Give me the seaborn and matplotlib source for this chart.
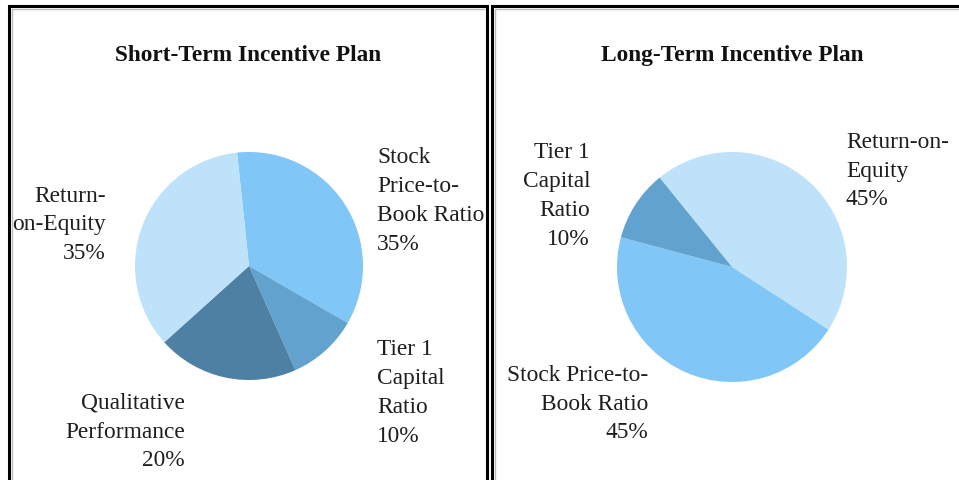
import matplotlib
matplotlib.use("Agg")
import matplotlib.pyplot as plt
from matplotlib.lines import Line2D
import seaborn as sns

# ---- data ----
short_titles = "Short-Term Incentive Plan"
long_titles = "Long-Term Incentive Plan"

short_categories = ["Stock Price-to-Book Ratio", "Tier 1 Capital Ratio",
                    "Qualitative Performance", "Return-on-Equity"]
short_values = [35, 10, 20, 35]
short_labels = ["Stock\nPrice-to-\nBook Ratio\n35%", "Tier 1\nCapital\nRatio\n10%",
                "Qualitative\nPerformance\n20%", "Return-\non-Equity\n35%"]

long_categories = ["Return-on-Equity", "Stock Price-to-Book Ratio", "Tier 1 Capital Ratio"]
long_values = [45, 45, 10]
long_labels = ["Return-on-\nEquity\n45%", "Stock Price-to-\nBook Ratio\n45%",
               "Tier 1\nCapital\nRatio\n10%"]

color_map = {
    "Return-on-Equity": "#BEE2FA",
    "Stock Price-to-Book Ratio": "#80C6F7",
    "Tier 1 Capital Ratio": "#62A2CE",
    "Qualitative Performance": "#4E80A3",
}

sns.set_theme(style="white")
plt.rcParams["font.family"] = ["Liberation Serif", "DejaVu Serif"]

W, H = 959, 481
fig = plt.figure(figsize=(W / 100, H / 100), dpi=100)
fig.patch.set_facecolor("white")


def fx(x):
    return x / W


def fy(y):
    return 1 - y / H


def pie_axes(cx, cy, r):
    return fig.add_axes([fx(cx - r), fy(cy + r), 2 * r / W, 2 * r / H])


FS = 16.8
LS = 1.48

# left pie
ax1 = pie_axes(249, 267, 114)
ax1.pie(short_values, colors=sns.color_palette([color_map[c] for c in short_categories]),
        startangle=96, counterclock=False, wedgeprops=dict(linewidth=0))
ax1.set_xlim(-1, 1)
ax1.set_ylim(-1, 1)
ax1.axis("off")

# right pie
ax2 = pie_axes(732, 268, 115)
ax2.pie(long_values, colors=sns.color_palette([color_map[c] for c in long_categories]),
        startangle=129, counterclock=False, wedgeprops=dict(linewidth=0))
ax2.set_xlim(-1, 1)
ax2.set_ylim(-1, 1)
ax2.axis("off")

# titles
fig.text(fx(248), fy(61), short_titles, ha="center", va="baseline",
         fontsize=FS, fontweight="bold", color="#111111")
fig.text(fx(732), fy(61), long_titles, ha="center", va="baseline",
         fontsize=FS, fontweight="bold", color="#111111")

# labels (position, alignment)
short_pos = [(377, 201, "left"), (377, 393, "left"), (185, 432, "right"), (106, 225, "right")]
long_pos = [(846, 171, "left"), (648, 404, "right"), (590, 196, "right")]

for lab, (x, y, ha) in zip(short_labels, short_pos):
    fig.text(fx(x), fy(y), lab, ha=ha, va="center", multialignment=ha,
             fontsize=FS, linespacing=LS, color="#1E1E1E")
for lab, (x, y, ha) in zip(long_labels, long_pos):
    fig.text(fx(x), fy(y), lab, ha=ha, va="center", multialignment=ha,
             fontsize=FS, linespacing=LS, color="#1E1E1E")

# panel borders
def line(xs, ys, lw=2.2, color="black"):
    fig.add_artist(Line2D([fx(v) for v in xs], [fy(v) for v in ys],
                          transform=fig.transFigure, color=color, lw=lw,
                          solid_joinstyle="miter", solid_capstyle="butt"))

line([9, 9, 487, 487], [481, 7, 7, 481])
line([492, 492, 959], [481, 7, 7])
line([11.5, 11.5, 485], [481, 9.5, 9.5], lw=1.0, color="#BBBBBB")
line([494.5, 494.5, 959], [481, 9.5, 9.5], lw=1.0, color="#BBBBBB")

fig.savefig("out.png", dpi=100, facecolor="white")
